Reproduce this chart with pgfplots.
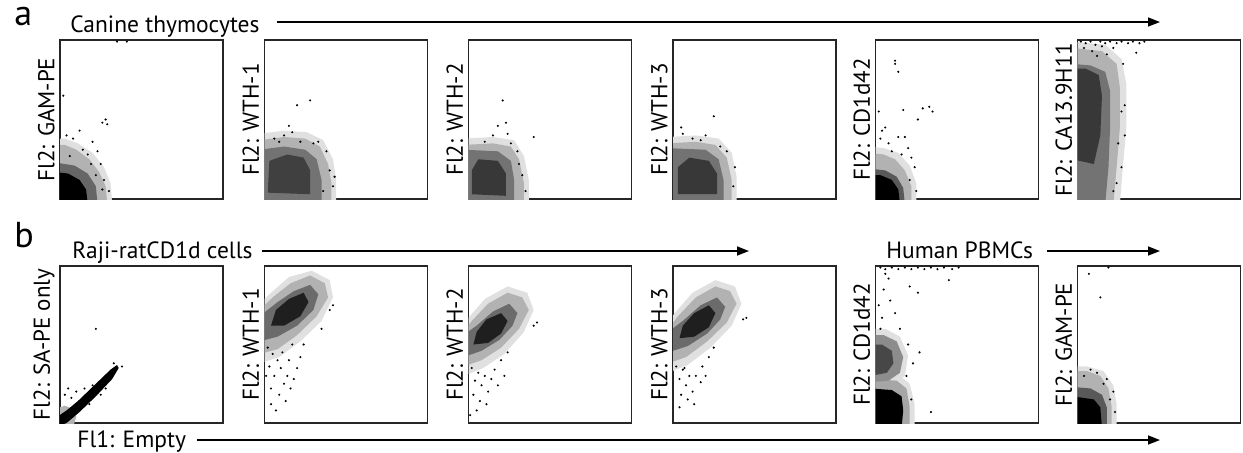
\documentclass[border=0pt]{standalone}
\usepackage{pgfplots}
\pgfplotsset{compat=1.18}
\usepackage{fontspec}
\setmainfont{PT Sans}
\usetikzlibrary{arrows.meta}
\pgfplotsset{
  fc/.style={scale only axis, width=81.5pt, xmin=0, xmax=100, ymin=0, ymax=100,
    xtick=\empty, ytick=\empty, anchor=north west, clip=true,
    axis line style={line width=0.85pt, black!85}},
  ra/.style={fc, height=79.5pt},
  rb/.style={fc, height=78.5pt},
}
\newcommand\poly[2]{\addplot[fill=#1, draw=none] coordinates {#2} -- cycle;}
\newcommand\pts[1]{\addplot[only marks, mark=*, mark size=0.3pt, draw=none, fill=black!60] coordinates {#1};}
\newcommand\lab[3]{\node[rotate=90, anchor=south, inner sep=0pt, font=\fontsize{11.5}{13}\selectfont] at (#1-2.5pt,#2) {#3};}
\begin{document}
\begin{tikzpicture}
\path[use as bounding box] (0,0) rectangle (621.5pt,-226pt);
% ---------------- row a ----------------
\begin{axis}[ra, at={(30pt,-20pt)}]
\poly{black!12}{(-3,-3)(32,-3)(31,10)(27,20)(20,29)(11,35)(3,38)(-3,38)}
\poly{black!30}{(-3,-3)(29,-3)(28,8)(24,17)(18,25)(10,31)(3,34)(-3,34)}
\poly{black!60}{(-3,-3)(23,-3)(22,8)(17,16)(9,21)(-3,23)}
\poly{black}{(-3,-3)(17,-3)(16,6)(12,12)(5,16)(-3,17)}
\pts{(12,43)(26,48)(28,50)(29,47)(14,31)(17,28)(20,36)(23,30)(25,22)(27,12)(30,5)(8,38)(4,40)(35,99)(41,99)(2,65)(22,15)(26,6)(6,27)(19,22)}
\end{axis}
\begin{axis}[ra, at={(132.25pt,-20pt)}]
\poly{black!12}{(-3,-3)(44,-3)(44,12)(42,25)(36,37)(26,42)(12,43)(-3,41)}
\poly{black!30}{(-3,-3)(41,-3)(41,10)(39,22)(34,33)(25,38)(12,39)(-3,37)}
\poly{black!55}{(-3,-3)(35,-3)(35,12)(32,25)(25,31)(12,33)(-3,31)}
\poly{black!75}{(2,4)(28,3)(28,18)(24,26)(14,28)(3,24)}
\pts{(20,59)(28,62)(17,42)(15,46)(12,40)(33,36)(38,30)(40,18)(42,8)(6,38)(22,36)(30,35)(36,5)(9,36)(43,14)}
\end{axis}
\begin{axis}[ra, at={(234.25pt,-20pt)}]
\poly{black!12}{(-3,-3)(37,-3)(37,12)(34,27)(28,37)(15,39)(-3,38)}
\poly{black!30}{(-3,-3)(34,-3)(34,10)(31,25)(26,33)(15,35)(-3,34)}
\poly{black!55}{(-3,-3)(28,-3)(28,12)(26,24)(18,30)(-3,31)}
\poly{black!78}{(2,3)(23,2)(23,16)(18,24)(6,25)(2,18)}
\pts{(21,62)(23,48)(24,41)(15,40)(40,39)(18,46)(30,30)(33,15)(35,5)(10,36)(26,35)(31,22)}
\end{axis}
\begin{axis}[ra, at={(336.5pt,-20pt)}]
\poly{black!12}{(-3,-3)(39,-3)(39,14)(36,29)(28,38)(14,40)(-3,39)}
\poly{black!30}{(-3,-3)(36,-3)(36,12)(33,26)(26,34)(14,36)(-3,35)}
\poly{black!55}{(-3,-3)(31,-3)(31,12)(28,25)(20,31)(-3,32)}
\poly{black!78}{(3,3)(27,3)(27,16)(22,24)(10,26)(3,20)}
\pts{(25,52)(6,41)(17,37)(33,30)(38,20)(37,8)(20,40)(12,38)(29,33)(5,45)}
\end{axis}
\begin{axis}[ra, at={(437.75pt,-20pt)}]
\poly{black!12}{(-3,-3)(25,-3)(25,10)(21,21)(14,29)(5,32)(-3,33)}
\poly{black!30}{(-3,-3)(22,-3)(22,8)(18,18)(12,25)(5,28)(-3,29)}
\poly{black!65}{(-3,-3)(18,-3)(17,7)(13,14)(6,18)(-3,19)}
\poly{black}{(-3,-3)(15,-3)(14,6)(10,12)(3,15)(-3,15)}
\pts{(12,87)(14,80)(17,56)(29,57)(33,58)(26,50)(4,43)(14,39)(18,39)(20,32)(8,35)(10,30)(3,38)(24,20)(22,26)(16,28)(2,55)(12,85)(35,55)(6,45)(21,12)(25,5)}
\end{axis}
\begin{axis}[ra, at={(538.75pt,-20pt)}]
\poly{black!12}{(-3,-3)(26,-3)(28,22)(30,45)(30,72)(27,88)(17,97)(-3,99)}
\poly{black!30}{(-3,-3)(22,-3)(24,20)(26,45)(26,70)(24,85)(15,93)(-3,95)}
\poly{black!55}{(-3,-3)(17,-3)(19,20)(20,45)(20,68)(17,80)(8,84)(-3,85)}
\poly{black!78}{(-3,25)(10,22)(14,40)(15,65)(13,78)(5,82)(-3,82)}
\pts{(2,99)(5,98)(8,99)(11,97)(14,99)(17,98)(20,99)(24,98)(27,99)(31,98)(34,99)(38,98)(41,99)(4,95)(9,93)(15,96)(22,95)(12,90)(18,91)(29,59)(36,92)(28,85)(27,55)(25,35)(27,20)(24,10)(22,5)(29,40)}
\end{axis}
% ---------------- row b ----------------
\begin{axis}[rb, at={(30pt,-133pt)}]
\poly{black!30}{(-3,-3)(8,-3)(10,4)(8,9)(3,11)(-3,9)}
\poly{black}{(-3,-3)(4,0)(12,7)(22,17)(32,28)(36,35)(35,37)(31,34)(21,24)(11,14)(4,8)(-3,3)}
\pts{(22,60)(3,18)(7,16)(15,22)(12,14)(18,12)(25,18)(30,28)(20,24)(10,20)(5,22)(28,22)(38,36)(33,38)}
\end{axis}
\begin{axis}[rb, at={(132.25pt,-133pt)}]
\poly{black!12}{(-3,38)(9,42)(22,52)(35,65)(42,80)(40,91)(29,97)(15,93)(3,82)(-3,76)}
\poly{black!30}{(-3,44)(8,47)(20,56)(32,68)(39,80)(37,89)(28,94)(16,89)(5,80)(-3,72)}
\poly{black!58}{(-3,52)(8,55)(20,62)(30,72)(33,82)(28,88)(18,84)(8,77)(-3,68)}
\poly{black!88}{(4,62)(12,62)(22,68)(27,77)(24,83)(15,79)(7,72)}
\pts{(2,48)(5,44)(8,40)(3,36)(10,35)(14,30)(6,30)(12,25)(16,22)(4,22)(9,18)(18,28)(20,35)(15,40)(22,42)(11,45)(4,12)(7,8)(13,14)(1,30)(24,50)(40,72)(42,75)(35,60)(17,50)}
\end{axis}
\begin{axis}[rb, at={(234.25pt,-133pt)}]
\poly{black!12}{(-3,30)(9,35)(22,44)(34,58)(40,72)(36,83)(24,87)(10,79)(0,67)(-3,62)}
\poly{black!30}{(-3,36)(8,40)(20,48)(31,60)(37,72)(33,80)(24,83)(12,76)(2,65)(-3,58)}
\poly{black!58}{(-3,42)(8,46)(19,53)(27,62)(30,70)(25,76)(15,71)(5,62)(-3,56)}
\poly{black!88}{(3,50)(12,51)(20,57)(24,65)(20,70)(11,66)(5,58)}
\pts{(2,35)(6,32)(10,30)(4,27)(14,28)(8,24)(12,20)(18,24)(16,34)(20,40)(3,18)(7,14)(11,12)(5,8)(1,5)(22,30)(40,62)(42,64)(24,45)}
\end{axis}
\begin{axis}[rb, at={(336.5pt,-133pt)}]
\poly{black!12}{(-3,32)(9,37)(23,48)(36,62)(42,76)(38,87)(26,91)(12,83)(1,70)(-3,64)}
\poly{black!30}{(-3,38)(8,42)(21,52)(33,64)(39,76)(35,84)(26,87)(14,80)(3,68)(-3,60)}
\poly{black!58}{(-3,45)(9,49)(21,57)(29,66)(32,74)(27,80)(17,75)(6,65)(-3,58)}
\poly{black!88}{(4,54)(13,55)(22,61)(26,70)(22,75)(13,70)(6,62)}
\pts{(2,36)(6,34)(10,30)(4,28)(14,30)(8,24)(12,20)(17,26)(18,36)(22,42)(5,18)(9,15)(13,12)(4,10)(7,35)(25,48)(45,67)(43,66)(20,30)}
\end{axis}
\begin{axis}[rb, at={(437.75pt,-133pt)}]
\poly{black!12}{(-3,22)(10,23)(18,30)(20,43)(15,55)(6,60)(-3,60)}
\poly{black!12}{(-3,-3)(24,-3)(24,12)(21,25)(14,31)(-3,32)}
\poly{black!35}{(-3,-3)(21,-3)(21,10)(19,22)(13,27)(-3,28)}
\poly{black}{(-3,-3)(16,-3)(17,8)(16,17)(10,21)(-3,22)}
\poly{black!45}{(-3,26)(8,27)(15,32)(17,42)(13,52)(5,56)(-3,56)}
\poly{black!72}{(-3,30)(7,32)(11,38)(10,46)(4,50)(-3,50)}
\pts{(3,99)(6,98)(10,99)(14,98)(18,99)(22,98)(26,99)(30,98)(34,99)(38,98)(42,99)(47,98)(51,99)(45,91)(21,87)(26,83)(9,78)(4,67)(27,45)(34,7)(5,85)(8,92)(2,75)(12,70)(3,60)(15,60)(20,50)(19,30)(22,15)(23,38)(6,95)}
\end{axis}
\begin{axis}[rb, at={(538.75pt,-133pt)}]
\poly{black!12}{(-3,-3)(24,-3)(24,12)(22,24)(16,33)(6,36)(-3,36)}
\poly{black!30}{(-3,-3)(21,-3)(21,10)(19,22)(14,30)(6,33)(-3,33)}
\poly{black!65}{(-3,-3)(18,-3)(18,10)(15,18)(8,22)(-3,23)}
\poly{black}{(-3,-3)(15,-3)(14,10)(10,15)(-3,17)}
\pts{(7,95)(14,80)(19,99)(23,7)(18,28)(12,32)(8,34)(4,30)(20,15)(22,20)(16,25)}
\end{axis}
% ---------------- y labels ----------------
\lab{30pt}{-59.75pt}{Fl2: GAM-PE}
\lab{132.25pt}{-59.75pt}{Fl2: WTH-1}
\lab{234.25pt}{-59.75pt}{Fl2: WTH-2}
\lab{336.5pt}{-59.75pt}{Fl2: WTH-3}
\lab{437.75pt}{-59.75pt}{Fl2: CD1d42}
\lab{538.75pt}{-59.75pt}{Fl2: CA13.9H11}
\lab{30pt}{-172.25pt}{Fl2: SA-PE only}
\lab{132.25pt}{-172.25pt}{Fl2: WTH-1}
\lab{234.25pt}{-172.25pt}{Fl2: WTH-2}
\lab{336.5pt}{-172.25pt}{Fl2: WTH-3}
\lab{437.75pt}{-172.25pt}{Fl2: CD1d42}
\lab{538.75pt}{-172.25pt}{Fl2: GAM-PE}
% ---------------- titles and arrows ----------------
\begin{scope}[every node/.style={inner sep=0pt, font=\fontsize{11.75}{14}\selectfont}]
\node[anchor=base west, font=\fontsize{18}{20}\selectfont] at (7pt,-12.5pt) {a};
\node[anchor=base west, font=\fontsize{18}{20}\selectfont] at (7pt,-123.5pt) {b};
\node[anchor=base west] at (35pt,-16pt) {Canine thymocytes};
\node[anchor=base west] at (36pt,-129pt) {Raji-ratCD1d cells};
\node[anchor=base west] at (443pt,-129pt) {Human PBMCs};
\node[anchor=base west] at (38.5pt,-223.5pt) {Fl1: Empty};
\end{scope}
\begin{scope}[line width=0.75pt, -{Triangle[length=6pt,width=4.5pt]}]
\draw (138.5pt,-11pt) -- (580pt,-11pt);
\draw (131pt,-125.5pt) -- (374.5pt,-125.5pt);
\draw (523.5pt,-125.5pt) -- (580pt,-125.5pt);
\draw (98.5pt,-220pt) -- (580pt,-220pt);
\end{scope}
\end{tikzpicture}
\end{document}
